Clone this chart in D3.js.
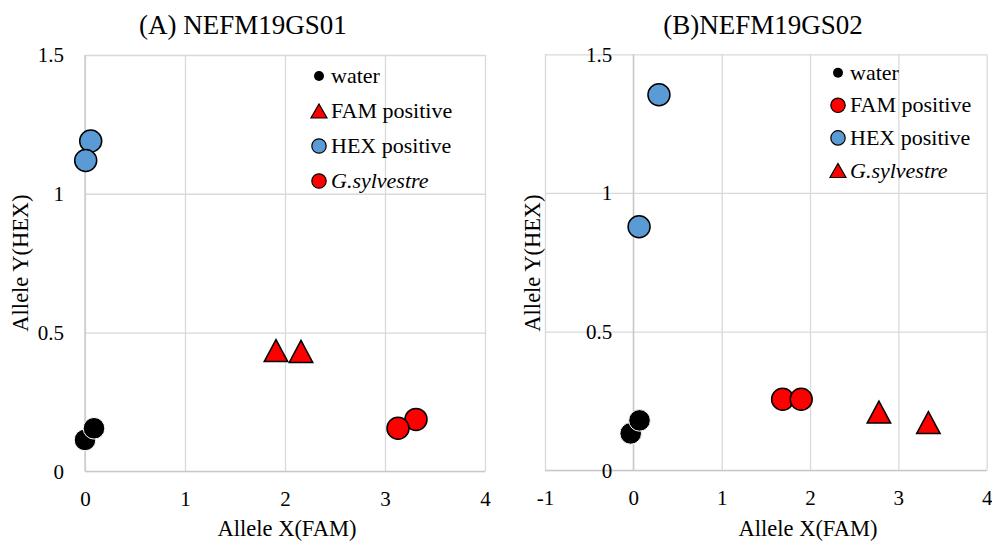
<!DOCTYPE html>
<html>
<head>
<meta charset="UTF-8">
<title>Allele discrimination plots</title>
<script src="https://d3js.org/d3.v7.min.js"></script>
<style>
    body { margin: 0; background: #fff; }
    svg, svg text { font-family: "Liberation Serif", "Times New Roman", serif; }
</style>
</head>
<body>
<script>
    // ticks
    var xTicksA = [0, 1, 2, 3, 4];
    var xTicksB = [-1, 0, 1, 2, 3, 4];
    var yTicks = [0, 0.5, 1, 1.5];

    // legend labels
    var seriesNames = ["water", "FAM positive", "HEX positive", "G.sylvestre"];

    // (A) NEFM19GS01, points as [x, y]
    var waterA = [[0.00, 0.113], [0.09, 0.155]];
    var famA = [[1.91, 0.435], [2.16, 0.432]];
    var hexA = [[0.057, 1.19], [0.007, 1.12]];
    var sylvA = [[3.31, 0.187], [3.13, 0.155]];

    // (B) NEFM19GS02
    var waterB = [[-0.03, 0.133], [0.07, 0.18]];
    var famB = [[1.69, 0.256], [1.90, 0.256]];
    var hexB = [[0.29, 1.354], [0.065, 0.878]];
    var sylvB = [[2.78, 0.21], [3.34, 0.172]];

    var width = 992, height = 543;
    var RED = "#ff0000", BLUE = "#5b9bd5";

    var svg = d3.select("body").append("svg")
        .attr("width", width).attr("height", height);

    var panels = [
        {
            title: "(A) NEFM19GS01", titleX: 243,
            xDomain: [0, 4], xTicks: xTicksA, xRange: [85, 485], yRange: [471.3, 55],
            yAxisAt: 0, yTitleX: 28, xTitleX: 287,
            legendX: 319, legendY: 76, legendStep: 35,
            series: [
                { data: waterA, shape: "dot", fill: "#000" },
                { data: famA, shape: "tri", fill: RED },
                { data: hexA, shape: "circle", fill: BLUE },
                { data: sylvA, shape: "circle", fill: RED }
            ]
        },
        {
            title: "(B)NEFM19GS02", titleX: 763,
            xDomain: [-1, 4], xTicks: xTicksB, xRange: [545, 986.7], yRange: [470.3, 54.3],
            yAxisAt: 0, yTitleX: 540, xTitleX: 808,
            legendX: 838, legendY: 72.7, legendStep: 32.6,
            series: [
                { data: waterB, shape: "dot", fill: "#000" },
                { data: famB, shape: "circle", fill: RED },
                { data: hexB, shape: "circle", fill: BLUE },
                { data: sylvB, shape: "tri", fill: RED }
            ]
        }
    ];

    // triangle centred on its bounding box
    function triPath(w, h) {
        return "M0," + (-h / 2) + "L" + (w / 2) + "," + (h / 2) + "L" + (-w / 2) + "," + (h / 2) + "Z";
    }

    function marker(g, shape, fill, big) {
        if (shape === "tri") {
            return g.append("path")
                .attr("d", big ? triPath(23.5, 22) : triPath(16, 14))
                .attr("fill", fill).attr("stroke", "#000").attr("stroke-width", big ? 1.5 : 1.2);
        }
        if (shape === "dot") {
            return g.append("circle").attr("r", big ? 10.8 : 5)
                .attr("fill", fill).attr("stroke", big ? "#fff" : "none").attr("stroke-width", 1);
        }
        return g.append("circle").attr("r", big ? 11 : 7.2)
            .attr("fill", fill).attr("stroke", "#000").attr("stroke-width", big ? 1.5 : 1.2);
    }

    function plain(d) { return String(d); } // "-1" with a hyphen, like the original

    panels.forEach(function (p) {
        var x = d3.scaleLinear().domain(p.xDomain).range(p.xRange);
        var y = d3.scaleLinear().domain([0, 1.5]).range(p.yRange);
        var left = p.xRange[0], right = p.xRange[1], top = p.yRange[1], bottom = p.yRange[0];

        // gridlines
        svg.append("g").attr("transform", "translate(0," + bottom + ")")
            .call(d3.axisBottom(x).tickValues(p.xTicks).tickSize(-(bottom - top)).tickFormat(""))
            .call(function (g) { g.select(".domain").remove(); })
            .selectAll("line").attr("stroke", "#d9d9d9").attr("stroke-width", 1.3);
        svg.append("g").attr("transform", "translate(" + left + ",0)")
            .call(d3.axisLeft(y).tickValues(yTicks).tickSize(-(right - left)).tickFormat(""))
            .call(function (g) { g.select(".domain").remove(); })
            .selectAll("line").attr("stroke", "#d9d9d9").attr("stroke-width", 1.3);

        // axis lines
        svg.append("line")
            .attr("x1", left).attr("x2", right).attr("y1", y(0)).attr("y2", y(0))
            .attr("stroke", "#c8c8c8").attr("stroke-width", 1.3);
        svg.append("line")
            .attr("x1", x(p.yAxisAt)).attr("x2", x(p.yAxisAt)).attr("y1", top).attr("y2", bottom)
            .attr("stroke", "#c8c8c8").attr("stroke-width", 1.3);

        // tick labels
        var xAx = svg.append("g").attr("transform", "translate(0," + bottom + ")")
            .call(d3.axisBottom(x).tickValues(p.xTicks).tickSize(0).tickPadding(20).tickFormat(plain))
            .attr("font-family", null).attr("font-size", null);
        xAx.select(".domain").remove();
        xAx.selectAll("text").style("font-size", "21px").attr("fill", "#000");

        var yAx = svg.append("g").attr("transform", "translate(" + x(p.yAxisAt) + ",0)")
            .call(d3.axisLeft(y).tickValues(yTicks).tickSize(0).tickPadding(21).tickFormat(plain))
            .attr("font-family", null).attr("font-size", null);
        yAx.select(".domain").remove();
        yAx.selectAll("text").style("font-size", "21px").attr("fill", "#000");

        // titles
        svg.append("text").attr("x", p.titleX).attr("y", 34)
            .attr("text-anchor", "middle").style("font-size", "27px").text(p.title);
        svg.append("text").attr("x", p.xTitleX).attr("y", 536)
            .attr("text-anchor", "middle").style("font-size", "22.5px").text("Allele X(FAM)");
        svg.append("text")
            .attr("transform", "translate(" + p.yTitleX + ",263) rotate(-90)")
            .attr("text-anchor", "middle").style("font-size", "22.5px").text("Allele Y(HEX)");

        // points
        p.series.forEach(function (s) {
            s.data.forEach(function (d) {
                var g = svg.append("g").attr("transform", "translate(" + x(d[0]) + "," + y(d[1]) + ")");
                marker(g, s.shape, s.fill, true);
            });
        });

        // legend
        p.series.forEach(function (s, i) {
            var cy = p.legendY + i * p.legendStep;
            var g = svg.append("g").attr("transform", "translate(" + p.legendX + "," + cy + ")");
            marker(g, s.shape, s.fill, false);
            var t = svg.append("text").attr("x", p.legendX + 12).attr("y", cy + 7).style("font-size", "22px");
            if (seriesNames[i] === "G.sylvestre") t.style("font-style", "italic");
            t.text(seriesNames[i]);
        });
    });
</script>
</body>
</html>
